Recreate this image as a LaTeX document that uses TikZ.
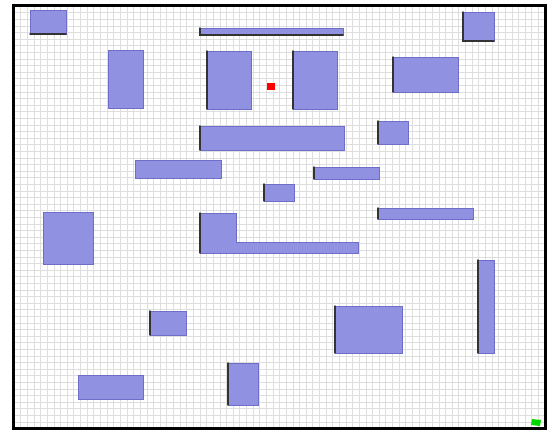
\documentclass[tikz,border=0pt]{standalone}
\usepackage{tikz}
\usetikzlibrary{positioning}
\definecolor{obstBlue}{RGB}{145,145,225}
\definecolor{obstLine}{RGB}{110,110,200}
\tikzset{
	gridline/.style={line width=.5pt, black!13},
	frameline/.style={line width=3pt, black},
	obstacle/.style={fill=obstBlue, draw=obstLine, line width=.6pt},
	edgeShadow/.style={line width=1.4pt, black!80, line cap=round},
	robot/.style={fill=red, draw=none},
	goal/.style={fill=green!85!black, draw=none}
}
\begin{document}
\begin{tikzpicture}[x=1pt, y=-1pt]
\useasboundingbox (0,0) rectangle (547,431);
\fill[white] (0,0) rectangle (547,431);
% floor grid
\foreach \i in {0,...,80} {
  \draw[gridline] ({14+\i*6.6375},6) -- ({14+\i*6.6375},428);
}
\foreach \j in {0,...,64} {
  \draw[gridline] (14,{6+\j*6.6}) -- (545,{6+\j*6.6});
}
% obstacles
\draw[obstacle] (30,10) rectangle (66,34);
\draw[edgeShadow] (30,34) -- (66,34);
\draw[obstacle] (200,28) rectangle (343,35);
\draw[edgeShadow] (200,28) -- (200,35) -- (343,35);
\draw[obstacle] (108,50) rectangle (143,108);
\draw[obstacle] (207,51) rectangle (251,109);
\draw[edgeShadow] (207,51) -- (207,109);
\draw[obstacle] (293,51) rectangle (337,109);
\draw[edgeShadow] (293,51) -- (293,109);
\draw[obstacle] (463,12) rectangle (494,41);
\draw[edgeShadow] (463,12) -- (463,41) -- (494,41);
\draw[obstacle] (393,57) rectangle (458,92);
\draw[edgeShadow] (393,57) -- (393,92);
\draw[obstacle] (200,126) rectangle (344,150);
\draw[edgeShadow] (200,126) -- (200,150);
\draw[obstacle] (378,121) rectangle (408,144);
\draw[edgeShadow] (378,121) -- (378,144);
\draw[obstacle] (135,160) rectangle (221,178);
\draw[obstacle] (314,167) rectangle (379,179);
\draw[edgeShadow] (314,167) -- (314,179);
\draw[obstacle] (264,184) rectangle (294,201);
\draw[edgeShadow] (264,184) -- (264,201);
\draw[obstacle] (378,208) rectangle (473,219);
\draw[edgeShadow] (378,208) -- (378,219);
\draw[obstacle] (43,212) rectangle (93,264);
\draw[obstacle] (200,213) -- (236,213) -- (236,242) -- (358,242) -- (358,253) -- (200,253) -- cycle;
\draw[edgeShadow] (200,213) -- (200,253);
\draw[obstacle] (478,260) rectangle (494,353);
\draw[edgeShadow] (478,260) -- (478,353);
\draw[obstacle] (335,306) rectangle (402,353);
\draw[edgeShadow] (335,306) -- (335,353);
\draw[obstacle] (150,311) rectangle (186,335);
\draw[edgeShadow] (150,311) -- (150,335);
\draw[obstacle] (78,375) rectangle (143,399);
\draw[obstacle] (228,363) rectangle (258,405);
\draw[edgeShadow] (228,363) -- (228,405);
% start and goal
\fill[robot] (267,83) rectangle (275,90);
\fill[goal] (532,419) -- (541,420) -- (540,426) -- (531,425) -- cycle;
% border
\draw[frameline] (13.5,5.5) rectangle (545,428.5);
\end{tikzpicture}
\end{document}
